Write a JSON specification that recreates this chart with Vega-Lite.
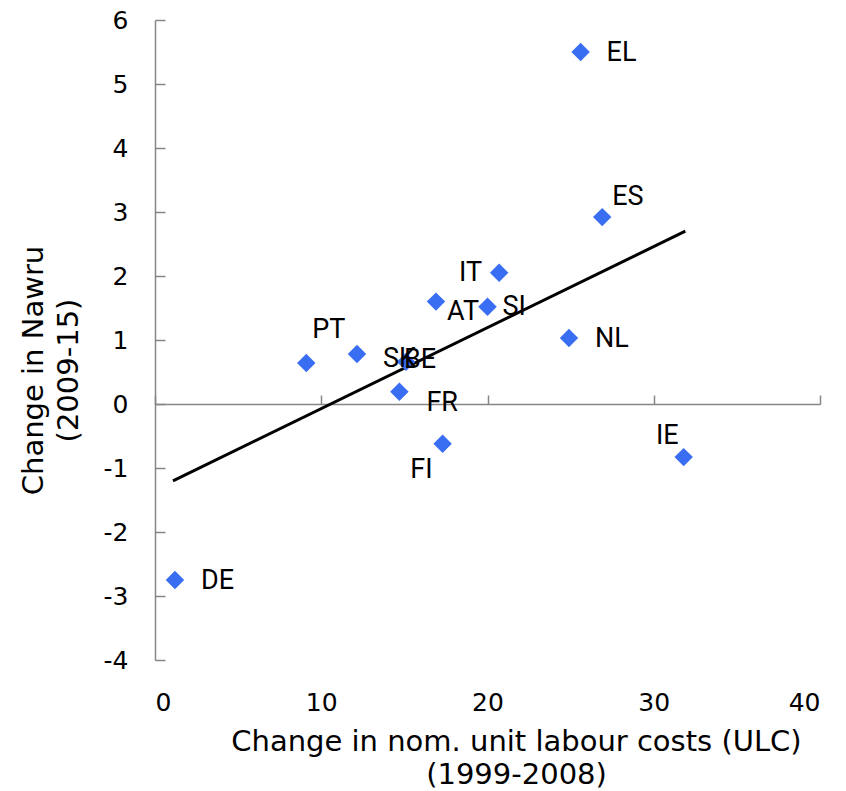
{
  "$schema": "https://vega.github.io/schema/vega-lite/v6.json",
  "autosize": "none",
  "width": 665,
  "height": 640,
  "padding": {"left": 155, "top": 20, "right": 26, "bottom": 131},
  "config": {
    "view": {"stroke": null},
    "axis": {"labelFont": "DejaVu Sans", "labelFontSize": 25, "labelColor": "#000000", "titleFont": "DejaVu Sans", "titleFontSize": 29, "titleFontWeight": "normal", "titleColor": "#000000", "domainColor": "#868686", "tickColor": "#868686", "domainWidth": 1.5, "tickWidth": 1.5, "grid": false},
    "text": {"font": "Roboto", "fontSize": 27, "color": "#000000", "baseline": "middle"}
  },
  "datasets": {
    "pts": [
      {"country": "EL", "ulc": 25.6, "nawru": 5.5},
      {"country": "ES", "ulc": 26.9, "nawru": 2.92},
      {"country": "IT", "ulc": 20.7, "nawru": 2.05},
      {"country": "AT", "ulc": 16.9, "nawru": 1.6},
      {"country": "SI", "ulc": 20.0, "nawru": 1.52},
      {"country": "NL", "ulc": 24.9, "nawru": 1.03},
      {"country": "PT", "ulc": 9.1, "nawru": 0.64},
      {"country": "SK", "ulc": 12.15, "nawru": 0.78},
      {"country": "BE", "ulc": 15.1, "nawru": 0.66},
      {"country": "FR", "ulc": 14.7, "nawru": 0.19},
      {"country": "FI", "ulc": 17.3, "nawru": -0.62},
      {"country": "IE", "ulc": 31.8, "nawru": -0.83},
      {"country": "DE", "ulc": 1.2, "nawru": -2.75}
    ],
    "trend": [
      {"ulc": 1.08, "nawru": -1.2},
      {"ulc": 31.9, "nawru": 2.7}
    ]
  },
  "resolve": {"axis": {"x": "independent", "y": "independent"}},
  "layer": [
    {
      "data": {"name": "trend"},
      "mark": {"type": "line", "color": "#000000", "strokeWidth": 3},
      "encoding": {
        "x": {"field": "ulc", "type": "quantitative", "scale": {"domain": [0, 40], "nice": false, "zero": false},
          "axis": {"orient": "bottom", "values": [0, 10, 20, 30, 40], "domain": false, "ticks": false, "labelPadding": 30, "labelExpr": "'' + datum.value",
            "title": ["Change in nom. unit labour costs (ULC)", "(1999-2008)"], "titleX": 361, "titleAlign": "center", "titlePadding": 12, "titleLineHeight": 33}},
        "y": {"field": "nawru", "type": "quantitative", "scale": {"domain": [-4, 6], "nice": false, "zero": false},
          "axis": {"orient": "left", "values": [-4, -3, -2, -1, 0, 1, 2, 3, 4, 5, 6], "ticks": false, "labelPadding": 27, "labelExpr": "'' + datum.value",
            "title": ["Change in Nawru", "(2009-15)"], "titleAngle": -90, "titleX": -136, "titleY": 350, "titleAlign": "center", "titleBaseline": "top", "titleLineHeight": 35}}
      }
    },
    {
      "data": {"name": "pts"},
      "mark": {"type": "point", "shape": "diamond", "filled": true, "color": "#3a6ef2", "opacity": 1, "size": 340},
      "encoding": {
        "x": {"field": "ulc", "type": "quantitative",
          "axis": {"orient": "top", "offset": -384, "values": [0, 10, 20, 30, 40], "labels": false, "title": null, "tickSize": 9}},
        "y": {"field": "nawru", "type": "quantitative",
          "axis": {"orient": "right", "offset": -665, "values": [-4, -3, -2, -1, 0, 1, 2, 3, 4, 5, 6], "labels": false, "domain": false, "title": null, "tickSize": 10}}
      }
    },
    {
      "data": {"name": "pts"},
      "transform": [{"filter": {"field": "country", "oneOf": ["EL", "NL", "DE"]}}],
      "mark": {"type": "text", "align": "left", "dx": 26, "dy": 1},
      "encoding": {"x": {"field": "ulc", "type": "quantitative", "axis": null}, "y": {"field": "nawru", "type": "quantitative", "axis": null}, "text": {"field": "country"}}
    },
    {
      "data": {"name": "pts"},
      "transform": [{"filter": {"field": "country", "oneOf": ["SK"]}}],
      "mark": {"type": "text", "align": "left", "dx": 26, "dy": 5},
      "encoding": {"x": {"field": "ulc", "type": "quantitative", "axis": null}, "y": {"field": "nawru", "type": "quantitative", "axis": null}, "text": {"field": "country"}}
    },
    {
      "data": {"name": "pts"},
      "transform": [{"filter": {"field": "country", "oneOf": ["SI"]}}],
      "mark": {"type": "text", "align": "left", "dx": 15, "dy": 0},
      "encoding": {"x": {"field": "ulc", "type": "quantitative", "axis": null}, "y": {"field": "nawru", "type": "quantitative", "axis": null}, "text": {"field": "country"}}
    },
    {
      "data": {"name": "pts"},
      "transform": [{"filter": {"field": "country", "oneOf": ["ES"]}}],
      "mark": {"type": "text", "align": "left", "dx": 10, "dy": -20},
      "encoding": {"x": {"field": "ulc", "type": "quantitative", "axis": null}, "y": {"field": "nawru", "type": "quantitative", "axis": null}, "text": {"field": "country"}}
    },
    {
      "data": {"name": "pts"},
      "transform": [{"filter": {"field": "country", "oneOf": ["AT"]}}],
      "mark": {"type": "text", "align": "left", "dx": 11, "dy": 10},
      "encoding": {"x": {"field": "ulc", "type": "quantitative", "axis": null}, "y": {"field": "nawru", "type": "quantitative", "axis": null}, "text": {"field": "country"}}
    },
    {
      "data": {"name": "pts"},
      "transform": [{"filter": {"field": "country", "oneOf": ["FR"]}}],
      "mark": {"type": "text", "align": "left", "dx": 27, "dy": 11},
      "encoding": {"x": {"field": "ulc", "type": "quantitative", "axis": null}, "y": {"field": "nawru", "type": "quantitative", "axis": null}, "text": {"field": "country"}}
    },
    {
      "data": {"name": "pts"},
      "transform": [{"filter": {"field": "country", "oneOf": ["PT"]}}],
      "mark": {"type": "text", "align": "left", "dx": 6, "dy": -33},
      "encoding": {"x": {"field": "ulc", "type": "quantitative", "axis": null}, "y": {"field": "nawru", "type": "quantitative", "axis": null}, "text": {"field": "country"}}
    },
    {
      "data": {"name": "pts"},
      "transform": [{"filter": {"field": "country", "oneOf": ["BE"]}}],
      "mark": {"type": "text", "align": "left", "dx": -2, "dy": -2},
      "encoding": {"x": {"field": "ulc", "type": "quantitative", "axis": null}, "y": {"field": "nawru", "type": "quantitative", "axis": null}, "text": {"field": "country"}}
    },
    {
      "data": {"name": "pts"},
      "transform": [{"filter": {"field": "country", "oneOf": ["IT"]}}],
      "mark": {"type": "text", "align": "right", "dx": -17, "dy": 0},
      "encoding": {"x": {"field": "ulc", "type": "quantitative", "axis": null}, "y": {"field": "nawru", "type": "quantitative", "axis": null}, "text": {"field": "country"}}
    },
    {
      "data": {"name": "pts"},
      "transform": [{"filter": {"field": "country", "oneOf": ["FI"]}}],
      "mark": {"type": "text", "align": "right", "dx": -10, "dy": 26},
      "encoding": {"x": {"field": "ulc", "type": "quantitative", "axis": null}, "y": {"field": "nawru", "type": "quantitative", "axis": null}, "text": {"field": "country"}}
    },
    {
      "data": {"name": "pts"},
      "transform": [{"filter": {"field": "country", "oneOf": ["IE"]}}],
      "mark": {"type": "text", "align": "right", "dx": -5, "dy": -21},
      "encoding": {"x": {"field": "ulc", "type": "quantitative", "axis": null}, "y": {"field": "nawru", "type": "quantitative", "axis": null}, "text": {"field": "country"}}
    }
  ]
}
